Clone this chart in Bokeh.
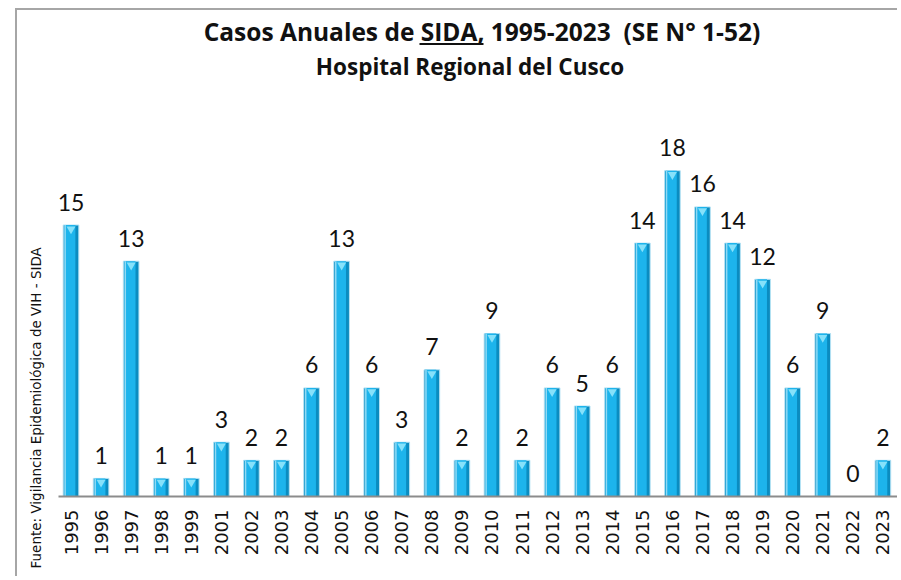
import math
from bokeh.plotting import figure
from bokeh.models import ColumnDataSource, Range1d, FixedTicker, Label, CDSView, BooleanFilter, Title
from bokeh.transform import dodge
from bokeh.core.properties import value
from bokeh.embed import file_html
from bokeh.resources import INLINE

# ---------------- data ----------------
years = ["1995", "1996", "1997", "1998", "1999", "2001", "2002", "2003", "2004",
         "2005", "2006", "2007", "2008", "2009", "2010", "2011", "2012", "2013",
         "2014", "2015", "2016", "2017", "2018", "2019", "2020", "2021", "2022", "2023"]
cases = [15, 1, 13, 1, 1, 3, 2, 2, 6, 13, 6, 3, 7, 2, 9, 2, 6, 5, 6, 14, 18, 16, 14,
         12, 6, 9, 0, 2]
title_line1 = "Casos Anuales de SIDA, 1995-2023\u00a0\u00a0(SE N° 1-52)"
title_line2 = "Hospital Regional del Cusco"
source_note = "Fuente: Vigilancia Epidemiológica de VIH - SIDA"

# ---------------- layout ----------------
W, H = 882, 568
LEFT = 30
BOTTOM = 82
FRAME_W = W - LEFT
FRAME_H = H - BOTTOM
STEP_PX = 30.07      # pixels per category
UNIT_PX = 18.1       # pixels per case
X_START = -(53.5 - LEFT) / STEP_PX
X_END = X_START + FRAME_W / STEP_PX
Y_TOP = FRAME_H / UNIT_PX
UX = (X_END - X_START) / FRAME_W
UY = Y_TOP / FRAME_H


def fx(px):
    return X_START + (px - LEFT) * UX


def fy(py):
    return Y_TOP - py * UY


pos = list(range(len(years)))
src = ColumnDataSource(dict(x=pos, y=cases, label=[str(v) for v in cases]))
view = CDSView(filter=BooleanFilter([v > 0 for v in cases]))

p = figure(width=W, height=H, output_backend="svg", toolbar_location=None,
           x_range=Range1d(X_START, X_END), y_range=Range1d(0, Y_TOP),
           y_axis_location=None, min_border_left=LEFT, min_border_right=0,
           min_border_top=0, min_border_bottom=BOTTOM)
p.margin = (8, 0, 0, 15)
p.styles = {"border-top": "2px solid #a6a6a6", "border-left": "2px solid #a6a6a6"}
p.outline_line_color = None
p.xgrid.visible = False
p.ygrid.visible = False
p.background_fill_color = "white"
p.border_fill_color = "white"

# bars (layered for a cylinder look)
p.vbar(x="x", top="y", width=0.52, bottom=0, source=src, view=view,
       fill_color="#0b8cc0", line_color="#b5e2f4", line_width=1)
p.vbar(x=dodge("x", -0.04), top="y", width=0.37, bottom=0, source=src, view=view,
       fill_color="#1db4ec", line_color=None)
p.vbar(x=dodge("x", -0.195), top="y", width=0.05, bottom=0, source=src, view=view,
       fill_color="#8fd9f4", line_color=None)
p.scatter(x="x", y=dodge("y", -0.22), marker="inverted_triangle", size=9,
          source=src, view=view, fill_color="#86e1fa", line_color=None)

# value labels
p.text(x="x", y="y", text="label", source=src, text_align="center",
       text_baseline="alphabetic", y_offset=-23, text_font=value("Lato"),
       text_font_size="23px", text_color="#111111")

# x axis
ax = p.xaxis[0]
ax.ticker = FixedTicker(ticks=pos)
ax.major_label_overrides = {i: y for i, y in enumerate(years)}
ax.major_label_orientation = math.pi / 2
ax.major_label_text_font = "DejaVu Sans"
ax.major_label_text_font_size = "18px"
ax.major_label_text_color = "#111111"
ax.major_label_standoff = 13
ax.major_tick_out = 0
ax.major_tick_in = 0
ax.minor_tick_out = 0
ax.minor_tick_in = 0
ax.major_tick_line_color = None
ax.minor_tick_line_color = None
ax.axis_line_color = "#8c8c8c"
ax.axis_line_width = 2
ax.bounds = (fx(41), X_END)

# titles
p.add_layout(Label(x=fx(464.5), y=fy(20.5), text=title_line1, text_align="center",
                   text_baseline="alphabetic", text_font="Open Sans",
                   text_font_style="bold", text_font_size="24.5px", text_color="#111111"))
p.add_layout(Label(x=fx(452.5), y=fy(55.5), text=title_line2, text_align="center",
                   text_baseline="alphabetic", text_font="Open Sans",
                   text_font_style="bold", text_font_size="22.5px", text_color="#111111"))
p.segment(x0=[fx(402)], y0=[fy(33.5)], x1=[fx(466)], y1=[fy(33.5)],
          line_color="#111111", line_width=2)

# source note (left side, reading upward)
note = Title(text=source_note, align="left", offset=-72, standoff=8,
             text_font="DejaVu Sans", text_font_style="normal",
             text_font_size="13.5px", text_color="#111111")
p.add_layout(note, "left")

open("out.html", "w").write(file_html(p, INLINE))
